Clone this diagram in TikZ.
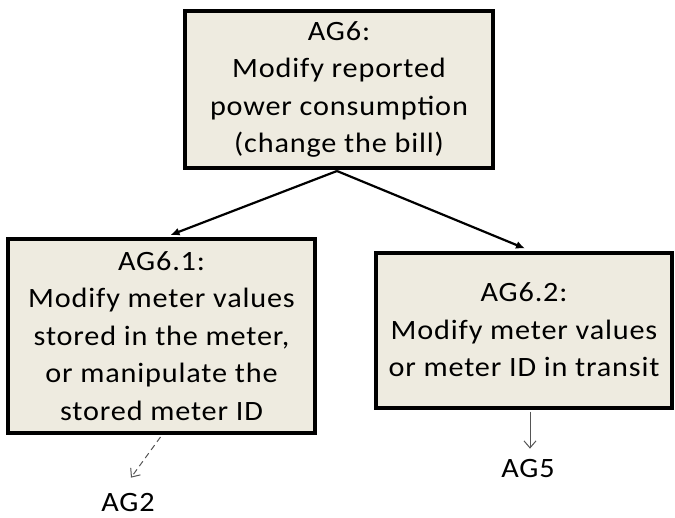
\documentclass[tikz,border=0pt]{standalone}
\usepackage{fontspec}
\setmainfont{Carlito}[FakeStretch=1.08, LetterSpace=3]
\usetikzlibrary{arrows.meta,calc}
\definecolor{boxfill}{HTML}{EEEBE0}
\definecolor{linkgray}{HTML}{555555}
\tikzset{
  goal/.style={draw=black, line width=4pt, fill=boxfill, align=center,
    inner sep=0pt, font=\fontsize{28}{37.5}\selectfont},
  label/.style={inner sep=0pt, anchor=base, font=\fontsize{28}{37.5}\selectfont},
  tree/.style={line width=2.2pt, -{Latex[length=9pt,width=8pt]}},
  ref/.style={line width=1pt, draw=linkgray, -{Straight Barb[length=7pt,width=12pt]}},
}
\begin{document}
\begin{tikzpicture}[x=1pt,y=-1pt]
\useasboundingbox (0,0) rectangle (675,517);
% goal boxes
\node[goal, minimum width=308pt, minimum height=157pt] (ag6) at (339,89.5)
  {AG6:\\Modify reported\\power consumption\\(change the bill)};
\node[goal, minimum width=307pt, minimum height=194pt] (ag61) at (161.5,336)
  {AG6.1:\\Modify meter values\\stored in the meter,\\or manipulate the\\stored meter ID};
\node[goal, minimum width=296pt, minimum height=155pt] (ag62) at (524,330)
  {AG6.2:\\Modify meter values\\or meter ID in transit};
% references to other trees
\node[label] (ag2) at (128,511) {AG2};
\node[label] (ag5) at (528,477) {AG5};
% refinement links
\draw[tree] ($(ag6.south)+(-2,1)$) -- ($(ag61.north)+(9,-2)$);
\draw[tree] ($(ag6.south)+(-2,1)$) -- ($(ag62.north)+(1,-2)$);
\draw[ref, dashed, dash pattern=on 6pt off 4pt] ($(ag61.south)+(-1,2)$) -- ($(ag2.north)+(3,-15)$);
\draw[ref] ($(ag62.south)+(6,2)$) -- ($(ag5.north)+(2,-10)$);
\end{tikzpicture}
\end{document}
